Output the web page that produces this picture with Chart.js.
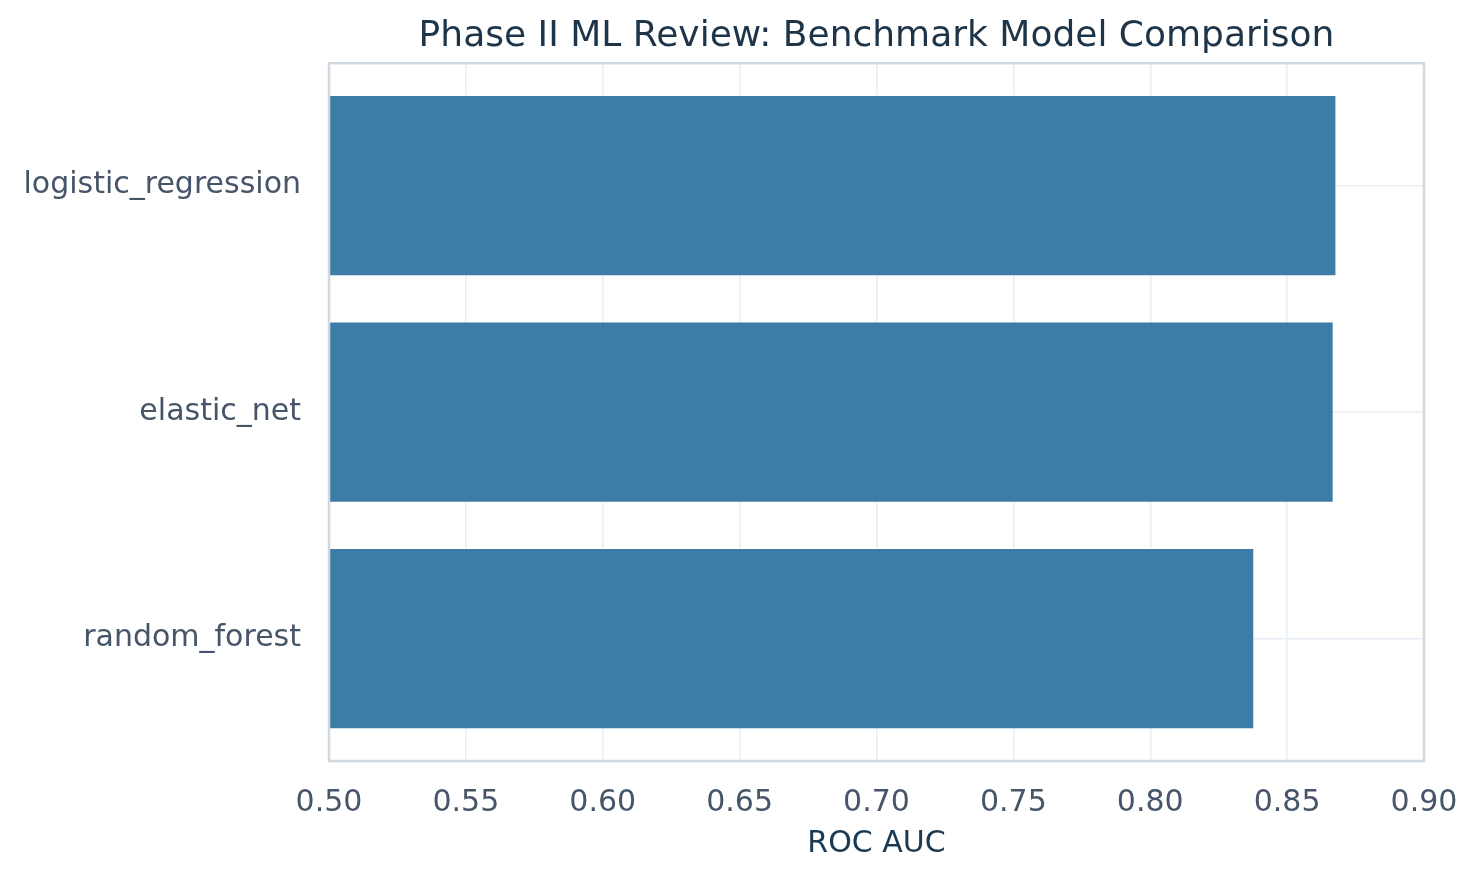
<!DOCTYPE html>
<html>
<head>
<meta charset="utf-8">
<script src="https://cdn.jsdelivr.net/npm/chart.js@4.4.1/dist/chart.umd.min.js"></script>
<style>
  html, body { margin: 0; padding: 0; background: #ffffff; }
  #wrap { width: 1477px; height: 877px; }
</style>
</head>
<body>
<div id="wrap"><canvas id="modelChart"></canvas></div>
<script>
// benchmark results
var models = ["logistic_regression", "elastic_net", "random_forest"];
var rocAuc = [0.868, 0.867, 0.838];
var xTicks = [0.50, 0.55, 0.60, 0.65, 0.70, 0.75, 0.80, 0.85, 0.90];

var barData = models.map(function (m, i) {
  return { x: rocAuc[i], y: i };
});

// draws the box around the plot area
var frame = {
  id: "frame",
  afterDraw: function (chart) {
    var a = chart.chartArea;
    var ctx = chart.ctx;
    ctx.save();
    ctx.strokeStyle = "#d0d8e2";
    ctx.lineWidth = 2.5;
    ctx.strokeRect(a.left, a.top, a.right - a.left, a.bottom - a.top);
    ctx.restore();
  }
};

Chart.defaults.font.family = "'DejaVu Sans', sans-serif";

var ctx = document.getElementById("modelChart").getContext("2d");
var chart = new Chart(ctx, {
  type: "bar",
  data: {
    datasets: [
      {
        label: "ROC AUC",
        data: barData,
        backgroundColor: "#3c7ca6",
        borderColor: "#ffffff",
        borderWidth: 1,
        barPercentage: 0.8,
        categoryPercentage: 1.0,
      },
    ],
  },
  options: {
    indexAxis: "y",
    responsive: true,
    maintainAspectRatio: false,
    animation: false,
    layout: { padding: { left: 0, right: 53, top: 0, bottom: 0 } },
    plugins: {
      legend: { display: false },
      tooltip: { enabled: false },
      title: {
        display: true,
        fullSize: false,
        text: "Phase II ML Review: Benchmark Model Comparison",
        color: "#1e3448",
        font: { size: 36, weight: "normal" },
        padding: { top: 15, bottom: 5 },
      },
    },
    scales: {
      x: {
        type: "linear",
        min: 0.5,
        max: 0.9,
        afterBuildTicks: function (scale) {
          scale.ticks = xTicks.map(function (v) { return { value: v }; });
        },
        afterFit: function (scale) {
          scale.height = 116;
          scale.paddingLeft = 0;
          scale.paddingRight = 0;
        },
        ticks: {
          color: "#475569",
          font: { size: 30 },
          padding: 24,
          callback: function (v) { return Number(v).toFixed(2); },
        },
        grid: { color: "#e6eef6", lineWidth: 1.5, drawTicks: false },
        border: { display: false },
        title: {
          display: true,
          text: "ROC AUC",
          color: "#1b3a52",
          font: { size: 30 },
          padding: { top: 0, bottom: 15 },
        },
      },
      y: {
        type: "linear",
        reverse: true,
        offset: false,
        min: -0.54,
        max: 2.54,
        afterFit: function (scale) { scale.width = 329; },
        ticks: {
          stepSize: 1,
          includeBounds: false,
          color: "#475569",
          font: { size: 30 },
          padding: 28,
          callback: function (v) { return models[v]; },
        },
        grid: { color: "#e6eef6", lineWidth: 1.5, drawTicks: false, offset: false },
        border: { display: false },
      },
    },
  },
  plugins: [frame],
});
</script>
</body>
</html>
